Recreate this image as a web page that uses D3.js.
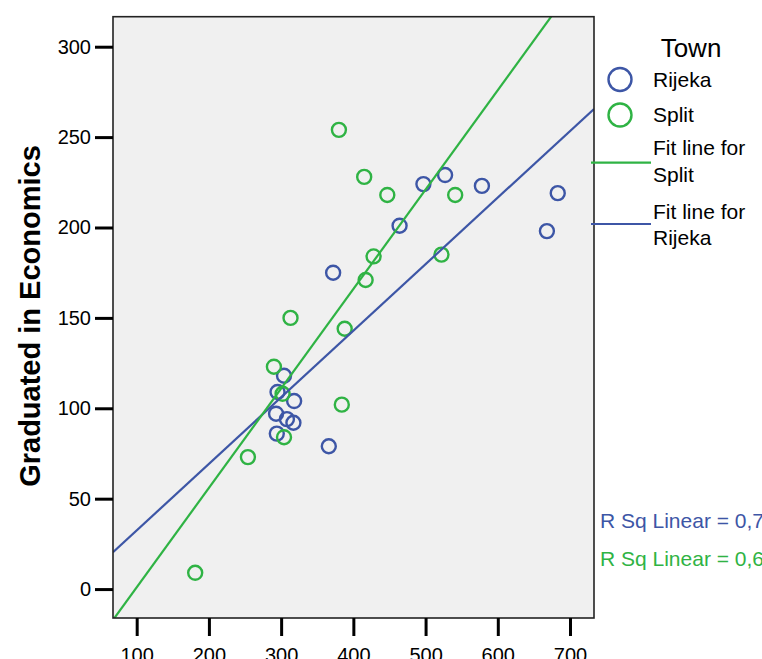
<!doctype html>
<html>
<head>
<meta charset="utf-8">
<script src="https://cdnjs.cloudflare.com/ajax/libs/d3/7.8.5/d3.min.js"></script>
<style>
  body { margin: 0; background: #fff; }
  svg { display: block; font-family: "Liberation Sans", Arial, sans-serif; }
</style>
</head>
<body>
<svg width="762" height="659"></svg>
<script>
// values
var rijekaX = [372, 497, 527, 464, 578, 683, 668, 304, 295, 318, 293, 308, 317, 294, 366];
var rijekaY = [175, 224, 229, 201, 223, 219, 198, 118, 109, 104, 97, 94, 92, 86, 79];
var splitX = [380, 415, 447, 541, 428, 522, 417, 388, 313, 290, 302, 384, 304, 254, 181];
var splitY = [254, 228, 218, 218, 184, 185, 171, 144, 150, 123, 108, 102, 84, 73, 9];
var xTicks = [100, 200, 300, 400, 500, 600, 700];
var yTicks = [0, 50, 100, 150, 200, 250, 300];

var blue = "#3d56a6", green = "#2fb344";

var svg = d3.select("svg");
var pLeft = 113, pRight = 594, pTop = 16.7, pBottom = 618;

var x = d3.scaleLinear().domain([67.2, 733.2]).range([pLeft, pRight]);
var y = d3.scaleLinear().domain([-16, 316.6]).range([pBottom, pTop]);

// least squares fit
function fit(xs, ys) {
  var mx = d3.mean(xs), my = d3.mean(ys), sxy = 0, sxx = 0, syy = 0;
  xs.forEach(function(v, i) {
    sxy += (v - mx) * (ys[i] - my);
    sxx += (v - mx) * (v - mx);
    syy += (ys[i] - my) * (ys[i] - my);
  });
  var b = sxy / sxx;
  return { b: b, a: my - b * mx, r2: sxy * sxy / (sxx * syy) };
}
var fitR = fit(rijekaX, rijekaY), fitS = fit(splitX, splitY);

svg.append("defs").append("clipPath").attr("id", "plot")
  .append("rect").attr("x", pLeft).attr("y", pTop)
  .attr("width", pRight - pLeft).attr("height", pBottom - pTop);

svg.append("rect")
  .attr("x", pLeft).attr("y", pTop)
  .attr("width", pRight - pLeft).attr("height", pBottom - pTop)
  .attr("fill", "#f0f0f0");

var g = svg.append("g").attr("clip-path", "url(#plot)");

function points(xs, ys, col) {
  g.selectAll(null).data(xs).enter().append("circle")
    .attr("cx", d => x(d))
    .attr("cy", (d, i) => y(ys[i]))
    .attr("r", 7)
    .attr("fill", "none")
    .attr("stroke", col)
    .attr("stroke-width", 2.4);
}
points(rijekaX, rijekaY, blue);
points(splitX, splitY, green);

var line = d3.line().x(d => x(d[0])).y(d => y(d[1]));
function fitLine(f, col) {
  var d0 = x.domain();
  g.append("path")
    .attr("d", line(d0.map(v => [v, f.a + f.b * v])))
    .attr("fill", "none")
    .attr("stroke", col)
    .attr("stroke-width", 2.2);
}
fitLine(fitR, blue);
fitLine(fitS, green);

// frame
svg.append("rect")
  .attr("x", pLeft).attr("y", pTop)
  .attr("width", pRight - pLeft).attr("height", pBottom - pTop)
  .attr("fill", "none").attr("stroke", "#222").attr("stroke-width", 1.6);

// axes
var yAxis = svg.append("g").attr("transform", "translate(" + pLeft + ",0)")
  .call(d3.axisLeft(y).tickValues(yTicks).tickSize(18).tickPadding(4));
var xAxis = svg.append("g").attr("transform", "translate(0," + pBottom + ")")
  .call(d3.axisBottom(x).tickValues(xTicks).tickSize(18).tickPadding(12));
[xAxis, yAxis].forEach(function(a) {
  a.select(".domain").remove();
  a.selectAll(".tick line").attr("stroke", "#000").attr("stroke-width", 3);
  a.selectAll(".tick text").attr("fill", "#000")
    .style("font-size", "20px").style("font-family", "Liberation Sans, Arial, sans-serif");
});

svg.append("text")
  .attr("transform", "translate(40,316) rotate(-90)")
  .attr("text-anchor", "middle")
  .style("font-size", "29px").style("font-weight", "bold")
  .text("Graduated in Economics");

// legend
var lg = svg.append("g").style("font-size", "21px");
lg.append("text").attr("x", 691).attr("y", 57).attr("text-anchor", "middle")
  .style("font-size", "26px").text("Town");
[["Rijeka", blue, 79.5], ["Split", green, 115]].forEach(function(d) {
  lg.append("circle").attr("cx", 620).attr("cy", d[2]).attr("r", 11.5)
    .attr("fill", "none").attr("stroke", d[1]).attr("stroke-width", 2.4);
  lg.append("text").attr("x", 653).attr("y", d[2] + 7).text(d[0]);
});
[["Split", green, 162.7, 155], ["Rijeka", blue, 224, 218.5]].forEach(function(d) {
  lg.append("line").attr("x1", 591).attr("x2", 651).attr("y1", d[2]).attr("y2", d[2])
    .attr("stroke", d[1]).attr("stroke-width", 2.2);
  lg.append("text").attr("x", 653).attr("y", d[3]).text("Fit line for");
  lg.append("text").attr("x", 653).attr("y", d[3] + 26.5).text(d[0]);
});

function fmt(v) { return d3.format(".3f")(v).replace(".", ","); }
lg.append("text").attr("x", 600).attr("y", 528).attr("fill", blue)
  .style("font-size", "21px")
  .text("R Sq Linear = " + fmt(fitR.r2));
lg.append("text").attr("x", 600).attr("y", 566).attr("fill", green)
  .style("font-size", "21px")
  .text("R Sq Linear = " + fmt(fitS.r2));
</script>
</body>
</html>
